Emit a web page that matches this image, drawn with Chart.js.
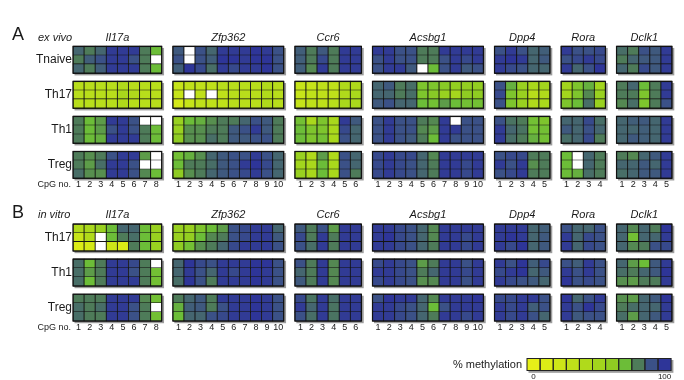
<!DOCTYPE html>
<html>
<head>
<meta charset="utf-8">
<script src="https://cdn.jsdelivr.net/npm/chart.js@4.4.1/dist/chart.umd.min.js"></script>
<style>
  html, body { margin: 0; padding: 0; background: #fff; }
  canvas { display: block; }
</style>
</head>
<body>
<canvas id="heat" width="684" height="380"></canvas>
<script>
// genes and number of CpG sites per amplicon
const genes = ['Il17a', 'Zfp362', 'Ccr6', 'Acsbg1', 'Dpp4', 'Rora', 'Dclk1'];
const cpgCounts = [8, 10, 6, 10, 5, 4, 5];

const exVivoTypes = ['Tnaive', 'Th17', 'Th1', 'Treg'];
const inVitroTypes = ['Th17', 'Th1', 'Treg'];

// colour key: % methylation steps and their colours
const legendSteps = [0, 10, 20, 30, 40, 50, 60, 70, 80, 90, 100];
const legendColors = ['#e6f018', '#dbec16', '#cde618', '#bfe11a', '#b0da1b', '#a2d51d',
                      '#8fcc22', '#6cbd38', '#4e7b59', '#3b5187', '#2e3598'];

// % methylation, 3 rows per cell type, CpGs in gene order
// Il17a | Zfp362 | Ccr6 | Acsbg1 | Dpp4 | Rora | Dclk1  (null = no call)
const exVivoTnaive = [
  [85,80,85,98,98,98,80,70,  88,null,90,85,98,98,98,100,98,90,  87,80,88,80,98,98,  98,98,90,90,80,80,98,98,98,98,  90,98,90,85,87,  98,90,90,93,  83,80,90,88,98],
  [80,87,90,98,98,90,80,null,  90,null,90,87,100,100,98,100,100,90,  87,80,93,80,98,98,  90,98,90,90,80,80,90,98,93,98,  98,100,98,85,88,  90,93,98,93,  80,85,88,88,98],
  [85,80,87,98,98,98,80,70,  87,100,93,83,98,93,98,98,100,90,  87,78,98,80,98,98,  90,98,98,88,null,70,90,98,88,90,  98,93,90,85,85,  98,85,90,100,  85,80,93,88,98]
];
const exVivoTh17 = [
  [35,35,35,35,40,35,35,35,  25,30,30,30,35,35,35,35,40,35,  25,25,30,30,40,40,  85,88,80,83,65,65,62,58,58,58,  90,72,55,45,50,  50,65,72,50,  80,85,70,80,98],
  [35,35,35,35,45,40,35,35,  25,null,30,null,30,35,35,35,40,35,  25,30,30,30,40,45,  85,85,80,83,65,62,55,48,60,60,  93,65,55,35,40,  50,65,78,55,  80,80,65,80,98],
  [35,35,35,35,40,35,35,35,  15,25,30,30,30,35,35,35,40,35,  25,30,30,35,45,45,  88,90,85,85,70,68,75,70,68,68,  90,65,55,40,45,  65,70,83,55,  78,83,65,80,90]
];
const exVivoTh1 = [
  [80,70,75,98,98,90,null,null,  55,70,72,77,80,80,85,90,88,80,  68,45,65,45,98,88,  90,98,90,90,80,78,98,null,90,90,  90,82,80,68,65,  85,85,93,83,  85,87,88,85,98],
  [80,70,75,90,98,90,80,70,  55,77,77,80,80,88,90,98,88,80,  70,65,65,45,93,85,  90,98,90,90,78,75,98,98,90,90,  98,85,82,68,68,  88,85,90,85,  85,85,87,85,98],
  [80,70,72,98,98,98,80,70,  60,77,77,83,80,88,88,90,90,80,  70,65,68,45,90,85,  90,98,90,88,80,70,98,90,90,90,  98,83,80,72,68,  83,85,93,80,  85,88,87,85,98]
];
const exVivoTreg = [
  [80,77,80,90,98,98,75,null,  68,72,77,85,88,90,90,98,90,85,  55,40,75,40,90,85,  93,98,93,93,85,78,98,98,98,98,  90,93,93,80,80,  70,null,85,80,  80,78,85,88,98],
  [80,75,83,98,98,90,null,null,  70,80,80,83,88,90,98,100,93,85,  50,45,70,45,90,85,  93,98,93,90,85,80,98,98,93,98,  98,90,98,77,80,  70,null,85,80,  85,85,88,85,98],
  [83,77,77,98,98,90,78,70,  60,77,80,85,88,90,93,98,90,85,  55,45,70,45,90,80,  93,98,93,90,85,80,98,98,93,98,  90,93,98,80,80,  70,72,83,80,  83,85,88,88,98]
];

const inVitroTh17 = [
  [40,45,55,70,85,85,70,55,  55,55,65,70,75,90,93,98,98,85,  88,80,90,75,98,98,  98,98,93,90,85,78,98,98,98,98,  98,98,98,85,87,  90,85,85,90,  85,78,85,80,100],
  [25,40,null,70,80,83,70,55,  55,58,70,78,80,90,93,98,98,88,  93,80,98,80,98,98,  98,100,93,90,85,78,98,98,93,98,  98,100,98,85,88,  98,85,93,90,  85,68,85,85,98],
  [10,15,null,20,10,80,70,55,  60,68,77,80,85,93,98,98,98,90,  90,83,98,80,98,98,  98,98,93,90,85,80,98,98,93,98,  98,93,100,85,88,  98,85,93,90,  85,78,80,90,93]
];
const inVitroTh1 = [
  [83,70,80,98,98,93,80,null,  85,100,93,90,98,98,98,100,100,90,  90,80,98,78,98,98,  93,98,93,90,75,80,98,98,90,98,  98,90,100,87,93,  90,87,98,90,  85,75,70,88,98],
  [83,75,80,98,98,90,80,68,  85,98,90,85,98,93,98,100,98,90,  85,80,98,78,98,98,  98,98,93,90,80,85,98,98,93,98,  93,98,100,85,88,  98,90,98,90,  83,80,85,88,100],
  [83,70,80,98,98,98,80,68,  83,100,90,80,98,98,98,100,98,90,  88,80,98,78,98,98,  93,98,93,90,77,78,98,98,90,98,  98,93,90,88,85,  100,90,93,90,  77,75,80,80,98]
];
const inVitroTreg = [
  [80,80,80,98,98,98,78,68,  80,85,88,80,98,98,98,100,98,90,  93,82,98,83,98,98,  90,100,98,98,85,78,98,98,98,100,  93,93,98,98,90,  100,85,90,98,  77,75,85,88,100],
  [83,80,83,98,98,90,80,null,  72,87,88,80,90,98,98,100,98,90,  98,85,98,82,98,98,  98,98,93,90,85,70,90,98,98,98,  98,93,98,87,90,  98,90,100,93,  80,83,85,85,98],
  [83,80,80,98,98,90,80,68,  70,85,85,90,93,98,98,100,98,90,  90,83,98,82,98,98,  98,98,93,90,85,80,98,98,93,98,  98,93,98,90,85,  98,88,90,90,  83,75,85,88,98]
];

const panels = [
  { letter: 'A', note: 'ex vivo', top: 2.85, types: exVivoTypes,
    rows: [exVivoTnaive, exVivoTh17, exVivoTh1, exVivoTreg] },
  { letter: 'B', note: 'in vitro', top: 22.85, types: inVitroTypes,
    rows: [inVitroTh17, inVitroTh1, inVitroTreg] }
];
const BLOCK_PITCH = 3.94;   // rows per cell-type block incl. gap
const FONT = '"Liberation Sans", Arial, Helvetica, sans-serif';

// column start of each gene block (one empty column between genes)
const geneStart = [];
let col = 0;
cpgCounts.forEach(n => { geneStart.push(col); col += n + 1; });
const colGene = [];
cpgCounts.forEach((n, g) => { for (let c = 0; c < n; c++) colGene.push({ g, c }); });

function hexToRgb(h) {
  return [1, 3, 5].map(i => parseInt(h.slice(i, i + 2), 16));
}
function methColor(v) {
  if (v == null) return '#ffffff';
  const t = Math.max(0, Math.min(100, v)) / 10;
  const i = Math.min(9, Math.floor(t));
  const f = t - i;
  const a = hexToRgb(legendColors[i]), b = hexToRgb(legendColors[i + 1]);
  const m = a.map((x, k) => Math.round(x + (b[k] - x) * f));
  return `rgb(${m[0]},${m[1]},${m[2]})`;
}

// one floating bar per CpG cell
const cells = [];
panels.forEach(p => {
  p.rows.forEach((block, k) => {
    block.forEach((row, r) => {
      row.forEach((v, j) => {
        const x0 = geneStart[colGene[j].g] + colGene[j].c;
        cells.push({ x: [x0, x0 + 1], y: p.top + k * BLOCK_PITCH + r + 0.5, v });
      });
    });
  });
});

function eachBlock(chart, fn) {
  const xs = chart.scales.x, ys = chart.scales.y;
  panels.forEach(p => {
    p.types.forEach((t, k) => {
      const y0 = ys.getPixelForValue(p.top + k * BLOCK_PITCH);
      const y1 = ys.getPixelForValue(p.top + k * BLOCK_PITCH + 3);
      genes.forEach((g, gi) => {
        const x0 = xs.getPixelForValue(geneStart[gi]);
        const x1 = xs.getPixelForValue(geneStart[gi] + cpgCounts[gi]);
        fn(x0, y0, x1 - x0, y1 - y0);
      });
    });
  });
}

// legend box geometry
const KEY_X = 527, KEY_Y = 358.5, KEY_W = 13.1, KEY_H = 12;

const frames = {
  id: 'frames',
  beforeDatasetsDraw(chart) {
    const ctx = chart.ctx;
    ctx.save();
    ctx.fillStyle = '#9c9c9c';
    eachBlock(chart, (x, y, w, h) => ctx.fillRect(x + 1.5, y + 1.5, w + 0.8, h + 0.8));
    ctx.fillRect(KEY_X + 1.5, KEY_Y + 1.5, KEY_W * legendSteps.length + 0.8, KEY_H + 0.8);
    ctx.restore();
  },
  afterDatasetsDraw(chart) {
    const ctx = chart.ctx, xs = chart.scales.x, ys = chart.scales.y;
    ctx.save();
    ctx.strokeStyle = '#111';
    ctx.lineWidth = 1.2;
    eachBlock(chart, (x, y, w, h) => ctx.strokeRect(x, y, w, h));

    ctx.fillStyle = '#1a1a1a';
    ctx.textBaseline = 'middle';
    panels.forEach(p => {
      const topPx = ys.getPixelForValue(p.top);
      ctx.font = `18px ${FONT}`;
      ctx.textAlign = 'left';
      ctx.fillText(p.letter, 12, topPx - 11.5);
      ctx.font = `italic 11px ${FONT}`;
      ctx.fillText(p.note, 38, topPx - 9);

      ctx.textAlign = 'center';
      genes.forEach((g, gi) => {
        ctx.fillText(g, xs.getPixelForValue(geneStart[gi] + cpgCounts[gi] / 2), topPx - 9);
      });

      ctx.font = `12px ${FONT}`;
      ctx.textAlign = 'right';
      p.types.forEach((t, k) => {
        ctx.fillText(t, xs.getPixelForValue(0) - 1, ys.getPixelForValue(p.top + k * BLOCK_PITCH + 1.5));
      });

      const cpgY = ys.getPixelForValue(p.top + (p.types.length - 1) * BLOCK_PITCH + 3) + 6.5;
      ctx.font = `9px ${FONT}`;
      ctx.fillText('CpG no.', xs.getPixelForValue(0) - 2, cpgY);
      ctx.textAlign = 'center';
      genes.forEach((g, gi) => {
        for (let c = 0; c < cpgCounts[gi]; c++) {
          ctx.fillText(String(c + 1), xs.getPixelForValue(geneStart[gi] + c + 0.5), cpgY);
        }
      });
    });

    // colour key
    legendSteps.forEach((s, i) => {
      ctx.fillStyle = methColor(s);
      ctx.fillRect(KEY_X + i * KEY_W, KEY_Y, KEY_W, KEY_H);
    });
    ctx.strokeStyle = '#222';
    ctx.lineWidth = 1;
    legendSteps.forEach((s, i) => ctx.strokeRect(KEY_X + i * KEY_W, KEY_Y, KEY_W, KEY_H));
    ctx.fillStyle = '#1a1a1a';
    ctx.font = `11px ${FONT}`;
    ctx.textAlign = 'right';
    ctx.fillText('% methylation', KEY_X - 5, KEY_Y + KEY_H / 2);
    ctx.font = `8px ${FONT}`;
    ctx.textAlign = 'center';
    ctx.fillText(String(legendSteps[0]), KEY_X + KEY_W / 2, 377);
    ctx.fillText(String(legendSteps[legendSteps.length - 1]), KEY_X + KEY_W * (legendSteps.length - 0.5), 377);
    ctx.restore();
  }
};

new Chart(document.getElementById('heat'), {
  type: 'bar',
  data: {
    datasets: [{
      data: cells,
      backgroundColor: c => methColor(c.raw ? c.raw.v : null),
      borderColor: '#141414',
      borderWidth: 0.8,
      borderSkipped: false,
      barThickness: 10,
      grouped: false
    }]
  },
  options: {
    indexAxis: 'y',
    responsive: false,
    animation: false,
    layout: { padding: 0 },
    scales: {
      x: { type: 'linear', min: -6.581, max: 55.082, display: false },
      y: { type: 'linear', min: 0, max: 38, reverse: true, display: false }
    },
    plugins: { legend: { display: false }, tooltip: { enabled: false } }
  },
  plugins: [frames]
});
</script>
</body>
</html>
